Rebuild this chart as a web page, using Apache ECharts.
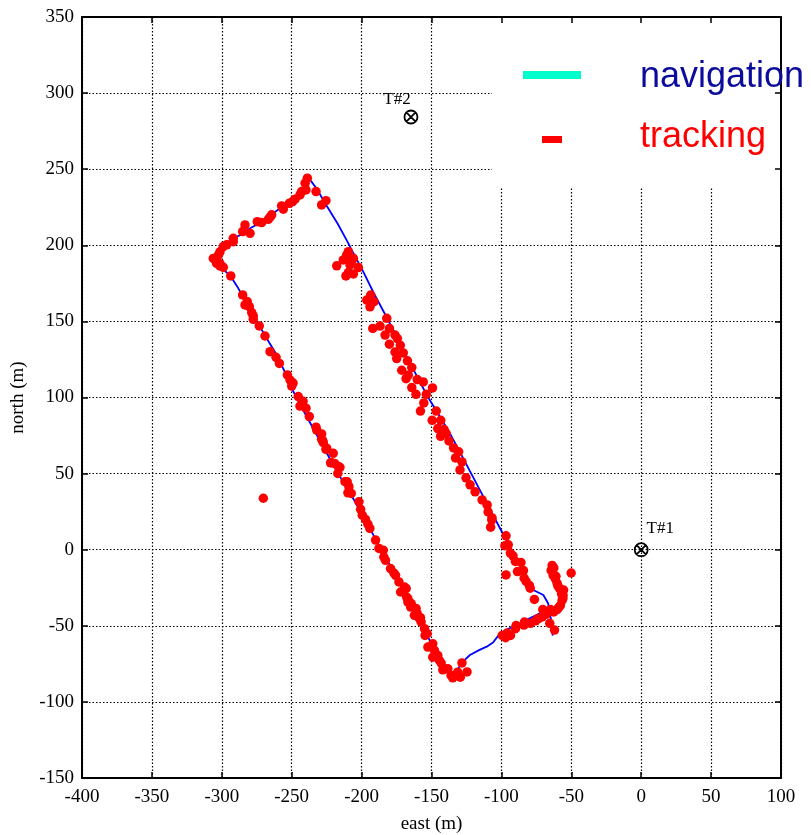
<!DOCTYPE html>
<html>
<head>
<meta charset="utf-8">
<script src="https://cdn.jsdelivr.net/npm/echarts@6/dist/echarts.min.js"></script>
<style>
  html, body { margin: 0; padding: 0; background: #fff; }
  #chart { width: 811px; height: 835px; }
</style>
</head>
<body>
<div id="chart"></div>
<script>
// navigation track (east, north)
var navPath = [
  [-63.3, -56.5], [-64.5, -46], [-66.6, -35.2], [-70, -29.8], [-77.2, -26.5],
  [-82, -18], [-90, -5], [-97.5, 8], [-105, 21], [-113, 35], [-121, 49],
  [-129, 63], [-136.8, 76.4], [-145, 89], [-153, 101], [-161, 115],
  [-168.5, 128], [-176, 142], [-184, 156], [-191.5, 169], [-199, 183],
  [-206, 195], [-210.7, 203.4], [-217, 214], [-225, 226], [-232, 237],
  [-236, 242], [-239.3, 244], [-241, 240], [-244, 234.2], [-251, 229],
  [-258.4, 224.3], [-266, 219], [-272, 215], [-279.8, 211.2], [-286, 207],
  [-292, 204.6], [-298, 200], [-303, 196], [-305.6, 192.5], [-303.5, 188],
  [-299, 184], [-294.1, 180.3], [-289, 173], [-284.8, 166.1], [-278, 155],
  [-272.7, 146.4], [-266, 136], [-260.7, 127.9], [-255, 117], [-251.2, 108.2],
  [-245, 97], [-239, 87], [-233, 77], [-227, 67], [-221, 57], [-215.5, 48],
  [-210.7, 41.4], [-205, 32], [-199, 22], [-193, 12], [-187, 2], [-181, -8],
  [-175, -18], [-169, -28], [-163, -40.7], [-157, -50], [-151, -60],
  [-145, -69], [-140, -76], [-136, -81], [-133, -83], [-130.8, -77.9],
  [-127, -73], [-122.5, -69.2], [-116, -66], [-110.5, -63.7], [-106, -61],
  [-101, -55], [-95, -52], [-89, -49.5], [-83, -46.5], [-77.2, -44],
  [-70, -40.7], [-65.7, -37.8]
];

// tracking fixes (east, north)
var trackPoints = [
  [-238.8, 244.1], [-240.4, 240.8], [-239.8, 236.4], [-242.9, 235.3], [-232.6, 235.3],
  [-244.1, 233.1], [-247.6, 230.3], [-249.3, 228.7], [-251.7, 227.6], [-228.6, 226.5],
  [-225.5, 229.3], [-257.2, 225.9], [-256, 223.7], [-264.3, 220], [-266.7, 217.1],
  [-265.5, 218.5], [-271.5, 214.9], [-274.6, 215.5], [-279.8, 207.9], [-283.4, 213.4],
  [-285.1, 209], [-291.8, 204.6], [-291.8, 202.4], [-296.5, 200.3], [-298.9, 199.2],
  [-301.3, 195.7], [-302.5, 193.6], [-304.9, 190.7], [-306.1, 191.4], [-303.7, 188.1],
  [-301.3, 186.4], [-298.9, 185.5], [-301.3, 187.9], [-293.6, 179.9],
  [-285.1, 167.4], [-281.8, 163], [-283.4, 160.8], [-280.3, 159.7], [-278.6, 155.8],
  [-277.5, 153.6], [-277.5, 151.4], [-273.2, 147], [-269.1, 140.4], [-265.5, 130.1],
  [-261.2, 126.4], [-258.8, 122.4], [-253.1, 114.8], [-251.2, 111.5], [-250, 107.5],
  [-249, 109.5], [-245.3, 100.6], [-241.9, 97.5], [-244.1, 94.4], [-239.8, 93],
  [-237.4, 87.5], [-232.6, 80.5], [-232.1, 78.6], [-228.6, 76.1], [-228.6, 72.5],
  [-227.9, 71.7], [-227.4, 70.3], [-225, 66.7], [-225.5, 65.9], [-220.3, 63.3],
  [-222.2, 57.1], [-221.4, 57.2], [-219.3, 56.7], [-215.5, 54.1], [-216.7, 54.6],
  [-217, 50.1], [-210.3, 44.6], [-211.9, 44.7], [-209.1, 41.4], [-209.8, 37.4],
  [-207.4, 37], [-201.9, 31.5], [-200.7, 26.5], [-199.5, 22.7], [-197.2, 19.9],
  [-195.5, 16.8], [-194.1, 14], [-190, 6.3], [-187.6, 0.8], [-184.5, -0.3],
  [-184.1, -4.8], [-182.9, -7], [-179.3, -12.4], [-176.9, -15.3], [-175.7, -16.8],
  [-173.3, -21.2], [-169.3, -24.5], [-172.1, -27.8], [-168.1, -25.5], [-167.8, -31.1],
  [-166.9, -32.1], [-166.9, -34.4], [-164.5, -35.4], [-164.9, -37.7], [-161, -38.7],
  [-160.2, -42], [-162.2, -43.1], [-157.9, -44.7], [-158.6, -45.3], [-157.4, -47.5],
  [-155, -51.9], [-153.1, -55.2], [-154.6, -56.3], [-149.1, -61.8], [-152.6, -64],
  [-147.9, -66.2], [-149.1, -70.6], [-145.5, -69.5], [-144.3, -72.8], [-143.1, -74.5],
  [-141.9, -78.9], [-138.3, -78.3], [-136, -82.6], [-134.8, -84.2], [-131.3, -80.5],
  [-129.4, -83.8], [-124.6, -80.3], [-128.2, -74.4],
  [-270.3, 33.8],
  [-99.4, -56.3], [-97, -57.8], [-95.8, -54.8], [-93.5, -56.3], [-89.9, -51.9],
  [-89.5, -49.8], [-83.9, -49.5], [-83.5, -47.5], [-79.2, -48.4], [-75.6, -46.7],
  [-74, -45.5], [-73.2, -45.2], [-70.8, -44.1], [-67.8, -42.4], [-64.9, -39.3],
  [-65.4, -48.4], [-62, -52.8],
  [-63.7, -10.3], [-64.4, -13.6], [-63, -16.9], [-61.4, -19.1], [-60.2, -21.9],
  [-58.3, -25.6], [-56.6, -27.8], [-55.9, -30], [-56.6, -33.3], [-57.8, -36.6],
  [-60.2, -39.4], [-62.6, -40.9], [-50.1, -15.3], [-70.4, -39.3], [-76.4, -32.7],
  [-62.5, -12], [-59.5, -24], [-57, -29], [-56, -32], [-59, -38], [-61, -17.5], [-55.5, -26.5],
  [-106.9, 19.6], [-107.7, 14.8], [-96.7, 9.1], [-95.1, 3.2], [-97.5, 2.6],
  [-93.6, -2.2], [-91.7, -4], [-90, -7.7], [-86, -8.4], [-96.7, -16.6],
  [-88.5, -14.4], [-84.2, -13.7], [-83.7, -18.7], [-82.3, -20.9], [-79.4, -25.3], [-80, -23.5],
  [-137.5, 71.5], [-134.2, 66.9], [-130.6, 64.3], [-132.8, 60.3], [-128.2, 57.7],
  [-129.6, 52.4], [-125.3, 47.2], [-122.4, 42.6], [-118.8, 38], [-113.8, 32.7],
  [-110.2, 29.4], [-109.5, 24.8], [-106.7, 20.9],
  [-209.5, 195.8], [-210.7, 193.6], [-213.1, 190.4], [-207.1, 189.3], [-205.9, 191.5],
  [-208.3, 187.1], [-217.8, 186.5], [-209.5, 182.1], [-205.9, 181.2], [-211.2, 179.9],
  [-202.3, 185.4], [-193.5, 167.3], [-196.3, 164], [-191.1, 162.9], [-194, 159.6],
  [-182, 152], [-192, 145.4], [-186.8, 146.9], [-180.1, 145.4], [-183.2, 141],
  [-176.1, 141], [-174.4, 138.7], [-180.1, 135], [-172.3, 134.3], [-176.1, 129.9],
  [-170.2, 129.3], [-174.9, 125.6], [-167.2, 124.1], [-164.1, 119.7], [-171.3, 117.9],
  [-166.6, 114.7], [-168.2, 112.4], [-160.2, 111.8], [-155.9, 110.2], [-164.1, 106.5],
  [-149.3, 106.3], [-161.1, 102.1], [-153.7, 102.1], [-155.5, 96.4], [-157.9, 91.1],
  [-146.6, 91.1], [-149.5, 85], [-143.4, 85], [-141, 78.9], [-145.5, 79.6],
  [-139.5, 76.3], [-143.5, 74.5]
];

// transponder targets
var targetNames = ['T#1', 'T#2'];
var targetPos = [[0, 0], [-164.7, 284.3]];

var legendNames = ['navigation', 'tracking'];

var xMin = -400, xMax = 100, yMin = -150, yMax = 350, step = 50;

var echart = echarts.init(document.getElementById('chart'));

var serif = 'Liberation Serif';
var axisBase = {
  type: 'value',
  interval: step,
  axisLine: { show: true, onZero: false, lineStyle: { color: '#000', width: 2 } },
  axisTick: { show: true, inside: true, length: 6, lineStyle: { color: '#000', width: 1.5 } },
  splitLine: { show: false }
};

var option = {
  backgroundColor: '#fff',
  animation: false,
  grid: { left: 82, right: 30, top: 17, bottom: 57, containLabel: false, outerBoundsMode: 'none' },
  xAxis: [
    Object.assign({}, axisBase, {
      min: xMin, max: xMax, position: 'bottom', z: 0,
      name: 'east (m)', nameLocation: 'middle', nameGap: 37,
      nameTextStyle: { fontFamily: serif, fontSize: 19, color: '#000' },
      axisLabel: { fontFamily: serif, fontSize: 19, color: '#000', margin: 10 },
      splitLine: { show: true, lineStyle: { color: '#000', type: [1.5, 2], width: 1.2 } }
    }),
    Object.assign({}, axisBase, {
      min: xMin, max: xMax, position: 'top', z: 5,
      axisLabel: { show: false }
    })
  ],
  yAxis: [
    Object.assign({}, axisBase, {
      min: yMin, max: yMax, position: 'left', z: 0,
      name: 'north (m)', nameLocation: 'middle', nameGap: 54, nameRotate: 90,
      nameTextStyle: { fontFamily: serif, fontSize: 19, color: '#000' },
      axisLabel: { fontFamily: serif, fontSize: 19, color: '#000', margin: 8 },
      splitLine: { show: true, lineStyle: { color: '#000', type: [1.5, 2], width: 1.2 } }
    }),
    Object.assign({}, axisBase, {
      min: yMin, max: yMax, position: 'right', z: 5,
      axisLabel: { show: false }
    })
  ],
  graphic: [
    // legend box hides the grid behind it
    { type: 'rect', z: 1, shape: { x: 492, y: 18, width: 319, height: 170 }, style: { fill: '#fff' } },
    { type: 'rect', z: 6, shape: { x: 523, y: 71, width: 58, height: 8 }, style: { fill: '#00ffcc' } },
    { type: 'rect', z: 6, shape: { x: 542, y: 136, width: 20, height: 7 }, style: { fill: '#ff0000' } },
    { type: 'text', z: 6, x: 640, y: 77,
      style: { text: legendNames[0], font: '36px "Liberation Sans"', fill: '#0c0c9c', verticalAlign: 'middle' } },
    { type: 'text', z: 6, x: 640, y: 137,
      style: { text: legendNames[1], font: '36px "Liberation Sans"', fill: '#ff0000', verticalAlign: 'middle' } }
  ],
  series: [
    {
      name: legendNames[0],
      type: 'line',
      data: navPath,
      showSymbol: false,
      symbol: 'none',
      z: 2,
      lineStyle: { color: '#0000ff', width: 1.8 }
    },
    {
      name: legendNames[1],
      type: 'scatter',
      data: trackPoints,
      symbol: 'circle',
      symbolSize: 9.5,
      z: 3,
      itemStyle: { color: '#ff0000', opacity: 1 }
    },
    {
      name: 'targets',
      type: 'scatter',
      z: 4,
      symbol: 'path://M0,10A10,10 0 1,1 20,10A10,10 0 1,1 0,10ZM2.9,2.9L17.1,17.1M17.1,2.9L2.9,17.1',
      symbolSize: 13,
      itemStyle: { color: 'none', borderColor: '#000', borderWidth: 1.8, opacity: 1 },
      data: targetPos.map(function (p, i) {
        return {
          name: targetNames[i],
          value: p,
          label: {
            show: true,
            formatter: '{b}',
            position: 'inside',
            offset: i === 0 ? [19, -21] : [-14, -17],
            fontFamily: serif,
            fontSize: 17,
            color: '#000'
          }
        };
      })
    }
  ]
};

echart.setOption(option);
</script>
</body>
</html>
